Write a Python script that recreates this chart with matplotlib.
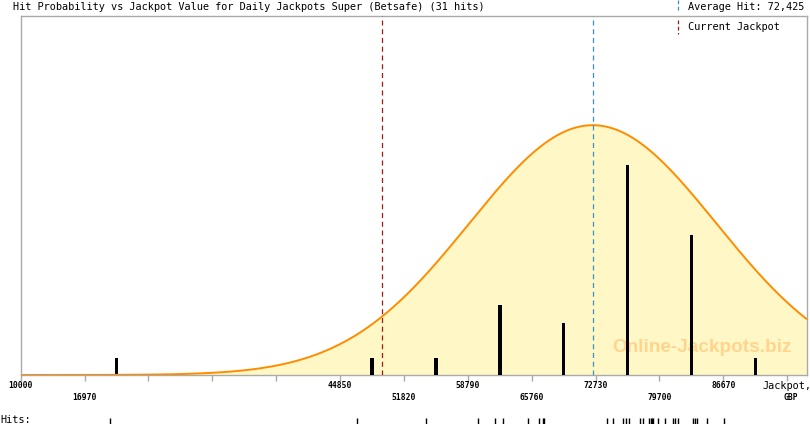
import numpy as np
import matplotlib.pyplot as plt
from matplotlib.lines import Line2D

# 数据
hits = [19713, 46669, 54265, 59907, 61763, 62668, 65397, 66597, 66968, 67100,
        73986, 74673, 75699, 76026, 76387, 77587, 77947, 78600, 78750, 78900,
        79050, 79584, 80315, 81156, 81439, 81734, 83400, 83590, 83780, 84932,
        86787]
bin_start = 10000
bin_width = 6970
n_bins = 12
avg_hit = 72425
current_jackpot = 49400
curve_peak = 14.3
# 刻度标签: 值 -> (文字, 行)
tick_labels = {10000: ('10000', 0), 16970: ('16970', 1), 44850: ('44850', 0),
               51820: ('51820', 1), 58790: ('58790', 0), 65760: ('65760', 1),
               72730: ('72730', 0), 79700: ('79700', 1), 86670: ('86670', 0)}

mono = 'DejaVu Sans Mono'
grey = '#aaaaaa'

W, H = 810, 425
fig = plt.figure(figsize=(W / 100, H / 100), dpi=100)
fig.patch.set_facecolor('white')

# 主坐标区
x0, x1, y_top, y_bot = 20.7, 807, 16, 375
ax = fig.add_axes([x0 / W, 1 - y_bot / H, (x1 - x0) / W, (y_bot - y_top) / H])

edges = bin_start + bin_width * np.arange(n_bins + 1)
counts, _ = np.histogram(hits, bins=edges)
centres = edges[:-1] + bin_width / 2

xmin, xmax = 10000, 95800
ax.set_xlim(xmin, xmax)
ax.set_ylim(0, 20.55)

# 正态曲线
sd = np.std(hits)
xs = np.linspace(xmin, xmax, 600)
ys = curve_peak * np.exp(-0.5 * ((xs - avg_hit) / sd) ** 2)
ax.fill_between(xs, 0, ys, color='#fff8c6', zorder=1)
ax.plot(xs, ys, color='#ff8c00', lw=1.4, zorder=4, solid_capstyle='butt')

# 柱
ax.bar(centres, counts, width=380, color='black', zorder=3)

# 虚线
ax.axvline(current_jackpot, color='#a01818', lw=0.9, ls=(0, (4, 3)), zorder=5)
ax.axvline(avg_hit, color='#3a8fc4', lw=0.9, ls=(0, (4, 3)), zorder=5)

# 水印
ax.text(0.866, 0.076, 'Online-Jackpots.biz', transform=ax.transAxes,
        family='Liberation Sans', fontweight='bold', fontsize=13.7,
        color='#ffd48e', ha='center', va='center', zorder=2)

for s in ax.spines.values():
    s.set_color(grey)
    s.set_linewidth(1)
ax.set_yticks([])
ax.set_xticks(edges)
ax.set_xticklabels([])
ax.tick_params(axis='x', length=4.3, width=1, color=grey, direction='out')

# 刻度标签（交错两行）
for e, (lab, row) in tick_labels.items():
    ypx = 386 if row == 0 else 398
    fig.text((x0 + (e - xmin) / (xmax - xmin) * (x1 - x0)) / W, 1 - ypx / H,
             lab, family=mono, fontsize=5.8, fontweight='bold',
             ha='center', va='center')

fig.text(762 / W, 1 - 386 / H, 'Jackpot,', family=mono, fontsize=7.4,
         ha='left', va='center')
fig.text(791 / W, 1 - 398 / H, 'GBP', family=mono, fontsize=5.8,
         fontweight='bold', ha='center', va='center')

# 标题和图例
fig.text(13 / W, 1 - 7.5 / H,
         'Hit Probability vs Jackpot Value for Daily Jackpots Super (Betsafe) (31 hits)',
         family=mono, fontsize=7.4, ha='left', va='center')
fig.text(688 / W, 1 - 7.5 / H, 'Average Hit: 72,425', family=mono, fontsize=7.4,
         ha='left', va='center')
fig.text(688 / W, 1 - 27 / H, 'Current Jackpot', family=mono, fontsize=7.4,
         ha='left', va='center')
fig.add_artist(Line2D([678 / W, 678 / W], [1 - 0 / H, 1 - 11 / H], color='#3a8fc4',
                      lw=0.9, ls=(0, (3, 2))))
fig.add_artist(Line2D([678 / W, 678 / W], [1 - 20 / H, 1 - 34 / H], color='#a01818',
                      lw=0.9, ls=(0, (3, 2))))

# 命中行
fig.text(0, 1 - 420 / H, 'Hits:', family=mono, fontsize=7.4, ha='left', va='center')
axh = fig.add_axes([x0 / W, 1 - 424 / H, (x1 - x0) / W, 6 / H])
axh.set_xlim(xmin, xmax)
axh.set_ylim(0, 1)
axh.vlines(hits, 0, 1, color='black', lw=1)
axh.axis('off')

fig.savefig('out.png', dpi=100, facecolor='white')
